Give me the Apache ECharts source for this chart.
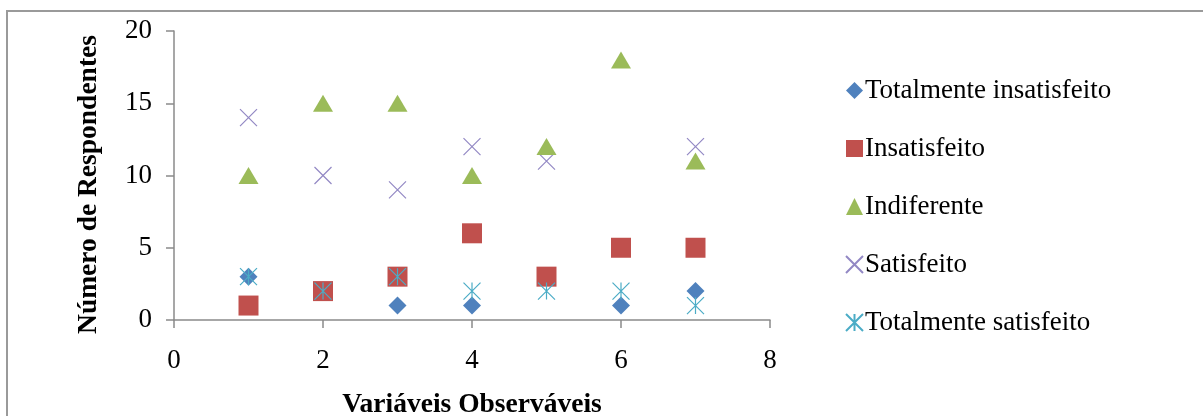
<!DOCTYPE html>
<html>
<head>
<meta charset="utf-8">
<script src="https://cdn.jsdelivr.net/npm/echarts@6/dist/echarts.min.js"></script>
<style>
html,body{margin:0;padding:0;background:#fff;}
#chart{width:1203px;height:416px;}
</style>
</head>
<body>
<div id="chart"></div>
<script>
const xValues = [1, 2, 3, 4, 5, 6, 7];
const seriesNames = ['Totalmente insatisfeito', 'Insatisfeito', 'Indiferente', 'Satisfeito', 'Totalmente satisfeito'];
const totalmenteInsatisfeito = [3, 2, 1, 1, 3, 1, 2];
const insatisfeito = [1, 2, 3, 6, 3, 5, 5];
const indiferente = [10, 15, 15, 10, 12, 18, 11];
const satisfeito = [14, 10, 9, 12, 11, 5, 12];
const totalmenteSatisfeito = [3, 2, 3, 2, 2, 2, 1];
const xAxisTitle = 'Variáveis Observáveis';
const yAxisTitle = 'Número de Respondentes';

const FONT = "'Liberation Serif', 'Times New Roman', serif";
const pairs = v => xValues.map((x, i) => [x, v[i]]);

const chart = echarts.init(document.getElementById('chart'), null, {renderer: 'canvas'});
const axisColor = '#8a8a8a';
const X_PATH = 'path://M0 0 L10 10 M10 0 L0 10';
const AST_PATH = 'path://M0 0 L10 10 M10 0 L0 10 M5 0 L5 10';

chart.setOption({
  animation: false,
  backgroundColor: '#fff',
  graphic: [{
    type: 'rect',
    shape: {x: 7, y: 11, width: 1400, height: 600},
    style: {fill: 'none', stroke: '#9a9a9a', lineWidth: 2},
    z: -1
  }],
  grid: {left: 174, top: 31, width: 596, height: 289, containLabel: false, outerBoundsMode: 'none'},
  legend: {
    orient: 'vertical',
    left: 840,
    top: 72,
    itemWidth: 17,
    itemHeight: 17,
    itemGap: 31,
    textStyle: {fontFamily: FONT, fontSize: 27, color: '#000', padding: [0, 0, 0, -3]},
    data: seriesNames
  },
  xAxis: {
    type: 'value', min: 0, max: 8, interval: 2,
    name: xAxisTitle, nameLocation: 'middle', nameGap: 71,
    nameTextStyle: {fontFamily: FONT, fontSize: 27.5, fontWeight: 'bold', color: '#000'},
    axisLine: {show: true, lineStyle: {color: axisColor, width: 1.5}},
    axisTick: {show: true, length: 8, lineStyle: {color: axisColor, width: 1.5}},
    axisLabel: {fontFamily: FONT, fontSize: 27, color: '#000', margin: 27},
    splitLine: {show: false}
  },
  yAxis: {
    type: 'value', min: 0, max: 20, interval: 5,
    name: yAxisTitle, nameLocation: 'middle', nameGap: 71, nameRotate: 90,
    nameTextStyle: {fontFamily: FONT, fontSize: 27.5, fontWeight: 'bold', color: '#000', padding: [0, 18, 0, 0]},
    axisLine: {show: true, lineStyle: {color: axisColor, width: 1.5}},
    axisTick: {show: true, length: 8, lineStyle: {color: axisColor, width: 1.5}},
    axisLabel: {fontFamily: FONT, fontSize: 27, color: '#000', margin: 22},
    splitLine: {show: false}
  },
  series: [
    {name: seriesNames[0], type: 'scatter', data: pairs(totalmenteInsatisfeito), z: 2,
     symbol: 'diamond', symbolSize: 18, itemStyle: {color: '#4F81BD', opacity: 1}},
    {name: seriesNames[1], type: 'scatter', data: pairs(insatisfeito), z: 3,
     symbol: 'rect', symbolSize: 20, itemStyle: {color: '#C0504D', opacity: 1}},
    {name: seriesNames[2], type: 'scatter', data: pairs(indiferente), z: 3,
     symbol: 'triangle', symbolSize: [20, 17], itemStyle: {color: '#9BBB59', opacity: 1}},
    {name: seriesNames[3], type: 'scatter', data: pairs(satisfeito), z: 2,
     symbol: X_PATH, symbolSize: 17,
     itemStyle: {color: '#9288C4', borderColor: '#9288C4', borderWidth: 1.2, opacity: 1}},
    {name: seriesNames[4], type: 'scatter', data: pairs(totalmenteSatisfeito), z: 4,
     symbol: AST_PATH, symbolSize: 17,
     itemStyle: {color: '#4BACC6', borderColor: '#4BACC6', borderWidth: 1.2, opacity: 1}}
  ]
});
</script>
</body>
</html>
